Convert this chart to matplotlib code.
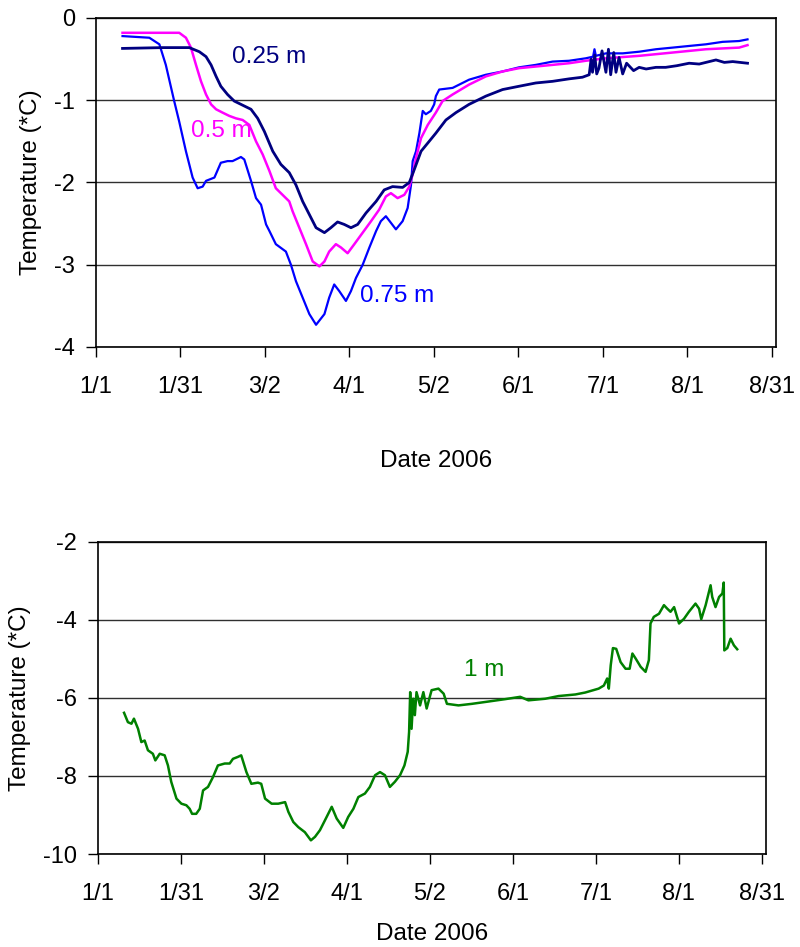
import matplotlib.pyplot as plt
import numpy as np

plt.rcParams['font.family'] = ['Liberation Sans', 'DejaVu Sans']

# x values are days since 1 Jan 2006
tick_days = [0, 30.25, 60.5, 90.75, 121, 151.25, 181.5, 211.75, 242]
tick_labels = ['1/1', '1/31', '3/2', '4/1', '5/2', '6/1', '7/1', '8/1', '8/31']

# 0.25 m
d25 = [9.5, 23.9, 33.4, 37.0, 39.4, 41.2, 43.0, 44.7, 47.1, 49.5, 52.5, 55.5, 57.9, 60.3,
       63.3, 66.2, 69.2, 71.6, 74.0, 76.4, 78.8, 81.8, 84.1, 86.5, 88.9, 91.3, 93.7, 96.7,
       100.3, 103.2, 106.2, 109.8, 112.2, 114.0, 116.4, 119.3, 121.7, 125.3, 128.9, 133.6,
       139.6, 145.6, 151.5, 157.5, 163.5, 169.4, 174.2, 176.6, 177.3, 177.8, 178.6, 179.3,
       180.1, 181.2, 182.6, 183.5, 184.3, 185.4, 186.2, 187.3, 188.6, 190.0, 192.5, 194.5,
       197.0, 200.5, 204.0, 208.0, 212.4, 216.0, 222.0, 225.0, 228.0, 233.3]
t25 = [-0.37, -0.36, -0.36, -0.41, -0.47, -0.57, -0.71, -0.83, -0.93, -1.01, -1.06, -1.11, -1.22, -1.38,
       -1.62, -1.78, -1.88, -2.03, -2.23, -2.39, -2.55, -2.61, -2.55, -2.48, -2.51, -2.55, -2.51, -2.37,
       -2.23, -2.09, -2.05, -2.06, -2.0, -1.84, -1.62, -1.50, -1.40, -1.24, -1.15, -1.05,
       -0.95, -0.87, -0.83, -0.79, -0.77, -0.74, -0.72, -0.69, -0.50, -0.66, -0.45, -0.68,
       -0.61, -0.40, -0.66, -0.38, -0.69, -0.42, -0.66, -0.48, -0.68, -0.55, -0.64, -0.60,
       -0.62, -0.60, -0.60, -0.58, -0.55, -0.56, -0.51, -0.54, -0.53, -0.55]

# 0.5 m
d50 = [9.5, 29.8, 32.2, 34.0, 35.8, 37.6, 39.4, 41.2, 43.0, 45.3, 47.7, 50.1, 52.5, 54.9,
       57.3, 59.7, 60.9, 62.1, 64.4, 66.8, 69.2, 70.4, 72.8, 75.2, 77.6, 80.0, 81.8, 83.5,
       85.9, 87.7, 90.1, 92.5, 95.5, 98.5, 101.4, 103.8, 105.6, 108.0, 110.4, 112.2, 113.4,
       114.6, 116.4, 118.8, 121.7, 124.1, 127.7, 133.6, 139.6, 145.6, 151.5, 157.5, 163.5,
       169.4, 175.4, 182.6, 194.5, 206.5, 218.4, 230.3, 233.3]
t50 = [-0.18, -0.18, -0.24, -0.36, -0.57, -0.77, -0.93, -1.05, -1.11, -1.15, -1.19, -1.22, -1.24, -1.30,
       -1.50, -1.66, -1.76, -1.86, -2.07, -2.15, -2.23, -2.35, -2.55, -2.75, -2.96, -3.02, -2.96, -2.84,
       -2.75, -2.79, -2.86, -2.75, -2.61, -2.47, -2.33, -2.17, -2.13, -2.19, -2.15, -2.05, -1.90,
       -1.70, -1.46, -1.30, -1.15, -1.01, -0.93, -0.81, -0.71, -0.65, -0.61, -0.59, -0.57,
       -0.55, -0.52, -0.49, -0.46, -0.42, -0.38, -0.36, -0.33]

# 0.75 m
d75 = [9.5, 19.1, 22.7, 25.0, 28.0, 29.8, 32.2, 34.6, 36.4, 38.2, 39.4, 42.4, 44.7, 47.1,
       48.9, 51.9, 53.1, 55.5, 57.3, 59.1, 60.9, 62.1, 64.4, 68.0, 69.8, 71.6, 74.0, 76.4,
       78.8, 81.8, 83.5, 85.3, 87.1, 89.5, 91.3, 93.1, 95.5, 97.9, 100.3, 102.0, 103.8,
       105.6, 107.4, 109.8, 111.6, 112.8, 113.4, 114.6, 115.8, 117.0, 118.1, 119.9, 121.1,
       121.7, 122.9, 127.7, 133.6, 139.6, 145.6, 151.5, 157.5, 163.5, 169.4, 175.4, 178.0,
       178.5, 179.0, 182.6, 188.6, 194.5, 200.5, 206.5, 212.4, 218.4, 224.4, 230.3, 233.3]
t75 = [-0.22, -0.24, -0.32, -0.57, -1.01, -1.26, -1.62, -1.94, -2.07, -2.05, -1.98, -1.94, -1.76, -1.74,
       -1.74, -1.69, -1.72, -1.98, -2.19, -2.27, -2.51, -2.59, -2.75, -2.84, -3.0, -3.2, -3.4, -3.6,
       -3.73, -3.6, -3.4, -3.24, -3.32, -3.44, -3.32, -3.16, -3.0, -2.79, -2.59, -2.47, -2.41,
       -2.49, -2.57, -2.47, -2.31, -2.03, -1.74, -1.62, -1.40, -1.13, -1.17, -1.13, -1.05,
       -0.95, -0.87, -0.85, -0.75, -0.69, -0.65, -0.60, -0.57, -0.53, -0.52, -0.49, -0.47,
       -0.38, -0.46, -0.43, -0.43, -0.41, -0.38, -0.36, -0.34, -0.32, -0.29, -0.28, -0.26]

# 1 m
d100 = [9.5, 10.9, 12.2, 13.1, 14.6, 15.8, 17.0, 18.2, 20.0, 20.9, 22.5, 24.3, 25.5, 26.7,
        28.6, 30.4, 32.2, 33.4, 34.3, 35.8, 37.1, 38.3, 40.1, 41.9, 43.7, 46.2, 48.0, 49.2,
        51.0, 52.2, 54.1, 55.9, 58.3, 59.5, 60.9, 63.3, 65.7, 68.2, 69.4, 71.2, 73.0, 75.4,
        77.6, 79.1, 80.9, 82.7, 85.2, 87.0, 89.4, 91.2, 93.1, 94.9, 97.3, 99.1, 101.0, 102.8,
        104.6, 106.4, 108.2, 110.1, 111.7, 112.9, 113.4, 113.8, 114.3, 114.9, 115.5, 116.1,
        117.4, 118.6, 119.8, 121.6, 124.1, 126.0, 127.2, 131.4, 136.3, 142.4, 148.4, 153.9,
        156.9, 163.0, 167.9, 174.0, 177.6, 182.5, 184.4, 185.6, 186.2, 186.9, 187.7, 188.9,
        190.5, 192.3, 193.8, 194.8, 196.0, 197.8, 199.6, 200.8, 201.4, 202.6, 204.5, 206.3,
        207.5, 208.7, 210.0, 211.8, 213.6, 215.4, 217.8, 219.1, 219.9, 221.5, 223.3, 223.9,
        225.1, 226.4, 227.6, 228.1, 228.3, 229.4, 230.6, 231.8, 233.0]
t100 = [-6.38, -6.62, -6.66, -6.53, -6.79, -7.13, -7.09, -7.34, -7.43, -7.6, -7.43, -7.47, -7.73, -8.15,
        -8.58, -8.71, -8.75, -8.84, -8.97, -8.97, -8.84, -8.37, -8.28, -8.03, -7.73, -7.68, -7.68, -7.56,
        -7.51, -7.47, -7.9, -8.2, -8.17, -8.2, -8.58, -8.71, -8.71, -8.67, -8.92, -9.18, -9.31, -9.44,
        -9.65, -9.56, -9.39, -9.14, -8.79, -9.09, -9.33, -9.05, -8.84, -8.54, -8.45, -8.28, -7.98, -7.9,
        -7.98, -8.28, -8.15, -7.98, -7.73, -7.38, -6.87, -5.85, -6.79, -6.02, -6.44, -5.85,
        -6.19, -5.85, -6.27, -5.80, -5.76, -5.89, -6.15, -6.19, -6.15, -6.09, -6.03, -5.97,
        -6.06, -6.02, -5.95, -5.91, -5.86, -5.76, -5.68, -5.5, -5.76, -5.16, -4.72, -4.74,
        -5.08, -5.25, -5.25, -4.86, -4.99, -5.2, -5.33, -5.03, -4.09, -3.92, -3.84, -3.62,
        -3.71, -3.79, -3.67, -4.09, -3.97, -3.79, -3.58, -3.71, -3.98, -3.62, -3.11, -3.41,
        -3.67, -3.41, -3.32, -3.04, -4.78, -4.72, -4.48, -4.65, -4.75]


def style_axes(ax, ymin, ymax, ystep, xpad, ypad):
    ax.set_xlim(0, 243.5)
    ax.set_ylim(ymin, ymax)
    ax.set_xticks(tick_days)
    ax.set_xticklabels(tick_labels)
    ax.set_yticks(np.arange(ymin, ymax + 0.01, ystep))
    ax.set_yticklabels(['%g' % v for v in np.arange(ymin, ymax + 0.01, ystep)])
    ax.yaxis.grid(True, color='#303030', linewidth=1)
    ax.xaxis.grid(False)
    ax.set_axisbelow(True)
    for s in ax.spines.values():
        s.set_color('black')
        s.set_linewidth(1.2)
    ax.tick_params(axis='x', direction='out', length=7, width=1, pad=14, labelsize=17)
    ax.tick_params(axis='y', direction='out', length=7, width=1, pad=8, labelsize=17)
    ax.set_xlabel('Date 2006', fontsize=17.5, labelpad=xpad)
    ax.set_ylabel('Temperature (*C)', fontsize=17.5, labelpad=ypad)


fig = plt.figure(figsize=(8, 9.47), dpi=100)

ax1 = fig.add_axes([0.12, 0.6336, 0.85, 0.3474])
ax1.plot(d75, t75, color='#0000FF', lw=1.6)
ax1.plot(d50, t50, color='#FF00FF', lw=1.8)
ax1.plot(d25, t25, color='#000080', lw=2)
ax1.text(48.7, -0.47, '0.25 m', color='#000080', fontsize=17.5, va='center')
ax1.text(34, -1.37, '0.5 m', color='#FF00FF', fontsize=17.5, va='center')
ax1.text(94.5, -3.38, '0.75 m', color='#0000FF', fontsize=17.5, va='center')
style_axes(ax1, -4, 0, 1, 37, 9)

ax2 = fig.add_axes([0.1225, 0.0982, 0.835, 0.3295])
ax2.plot(d100, t100, color='#008000', lw=1.8)
ax2.text(133.4, -5.28, '1 m', color='#008000', fontsize=17.5, va='center')
style_axes(ax2, -10, -2, 2, 13, 9)

fig.savefig('out.png', dpi=100)
